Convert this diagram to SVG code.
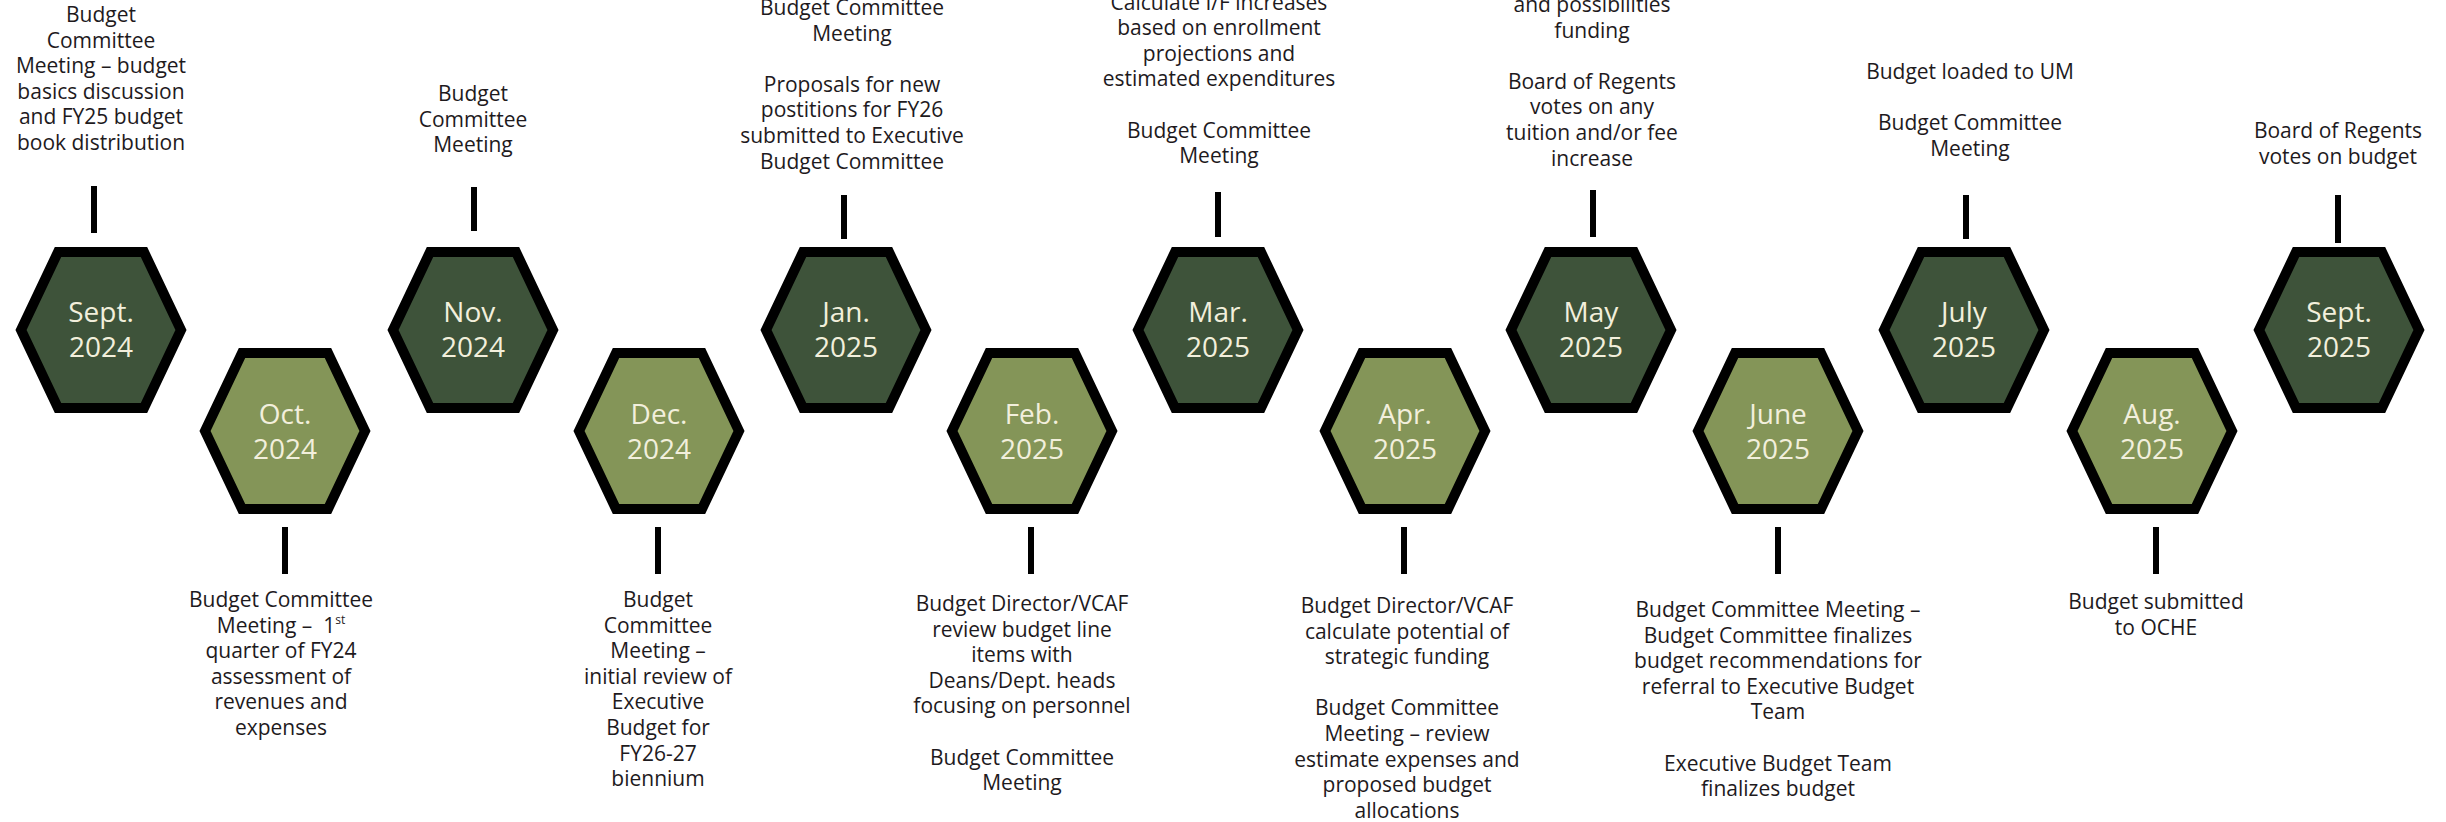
<svg xmlns="http://www.w3.org/2000/svg" width="2446" height="822" viewBox="0 0 2446 822">
<style>
.hex{stroke:#000;stroke-width:10;stroke-linejoin:miter;stroke-miterlimit:10}
.dark{fill:#3e533a}
.light{fill:#849558}
.hl{font-family:"Open Sans","Liberation Sans",sans-serif;font-size:28px;fill:#f2efdc;text-anchor:middle}
.t{font-family:"Open Sans","Liberation Sans",sans-serif;font-size:21px;fill:#1e1a1d;text-anchor:middle}
.c line{stroke:#000;stroke-width:6}
</style>
<defs>
<path id="hx" d="M-43,-78 L43,-78 L80,0 L43,78 L-43,78 L-80,0 Z"/>
</defs>
<rect width="2446" height="822" fill="#fff"/>
<g class="c" id="connectors">
<line x1="94" y1="186" x2="94" y2="233"/>
<line x1="474" y1="187" x2="474" y2="231"/>
<line x1="844" y1="195" x2="844" y2="239"/>
<line x1="1218" y1="192" x2="1218" y2="237"/>
<line x1="1593" y1="190" x2="1593" y2="237"/>
<line x1="1966" y1="195" x2="1966" y2="239"/>
<line x1="2338" y1="195" x2="2338" y2="243"/>
<line x1="285" y1="527" x2="285" y2="574"/>
<line x1="658" y1="527" x2="658" y2="574"/>
<line x1="1031" y1="527" x2="1031" y2="574"/>
<line x1="1404" y1="527" x2="1404" y2="574"/>
<line x1="1778" y1="527" x2="1778" y2="574"/>
<line x1="2156" y1="527" x2="2156" y2="574"/>
</g>
<g id="sep2024">
<use href="#hx" class="hex dark" x="101" y="330"/>
<text class="hl" x="101" y="322">Sept.</text><text class="hl" x="101" y="357">2024</text>
<text class="t" x="101" y="22">Budget<tspan x="101" dy="25.6">Committee</tspan><tspan x="101" dy="25.6">Meeting – budget</tspan><tspan x="101" dy="25.6">basics discussion</tspan><tspan x="101" dy="25.6">and FY25 budget</tspan><tspan x="101" dy="25.6">book distribution</tspan></text>
</g>
<g id="oct2024">
<use href="#hx" class="hex light" x="285" y="431"/>
<text class="hl" x="285" y="424">Oct.</text><text class="hl" x="285" y="459">2024</text>
<text class="t" x="281" y="607">Budget Committee<tspan x="281" dy="25.6">Meeting – &#160;1<tspan font-size="12" dy="-9">st</tspan></tspan><tspan x="281" dy="34.6">quarter of FY24</tspan><tspan x="281" dy="25.6">assessment of</tspan><tspan x="281" dy="25.6">revenues and</tspan><tspan x="281" dy="25.6">expenses</tspan></text>
</g>
<g id="nov2024">
<use href="#hx" class="hex dark" x="473" y="330"/>
<text class="hl" x="473" y="322">Nov.</text><text class="hl" x="473" y="357">2024</text>
<text class="t" x="473" y="101">Budget<tspan x="473" dy="25.6">Committee</tspan><tspan x="473" dy="25.6">Meeting</tspan></text>
</g>
<g id="dec2024">
<use href="#hx" class="hex light" x="659" y="431"/>
<text class="hl" x="659" y="424">Dec.</text><text class="hl" x="659" y="459">2024</text>
<text class="t" x="658" y="607">Budget<tspan x="658" dy="25.6">Committee</tspan><tspan x="658" dy="25.6">Meeting –</tspan><tspan x="658" dy="25.6">initial review of</tspan><tspan x="658" dy="25.6">Executive</tspan><tspan x="658" dy="25.6">Budget for</tspan><tspan x="658" dy="25.6">FY26-27</tspan><tspan x="658" dy="25.6">biennium</tspan></text>
</g>
<g id="jan2025">
<use href="#hx" class="hex dark" x="846" y="330"/>
<text class="hl" x="846" y="322">Jan.</text><text class="hl" x="846" y="357">2025</text>
<text class="t" x="852" y="15">Budget Committee<tspan x="852" dy="25.6">Meeting</tspan><tspan x="852" dy="51.2">Proposals for new</tspan><tspan x="852" dy="25.6">postitions for FY26</tspan><tspan x="852" dy="25.6">submitted to Executive</tspan><tspan x="852" dy="25.6">Budget Committee</tspan></text>
</g>
<g id="feb2025">
<use href="#hx" class="hex light" x="1032" y="431"/>
<text class="hl" x="1032" y="424">Feb.</text><text class="hl" x="1032" y="459">2025</text>
<text class="t" x="1022" y="611">Budget Director/VCAF<tspan x="1022" dy="25.6">review budget line</tspan><tspan x="1022" dy="25.6">items with</tspan><tspan x="1022" dy="25.6">Deans/Dept. heads</tspan><tspan x="1022" dy="25.6">focusing on personnel</tspan><tspan x="1022" dy="51.2">Budget Committee</tspan><tspan x="1022" dy="25.6">Meeting</tspan></text>
</g>
<g id="mar2025">
<use href="#hx" class="hex dark" x="1218" y="330"/>
<text class="hl" x="1218" y="322">Mar.</text><text class="hl" x="1218" y="357">2025</text>
<text class="t" x="1219" y="9.5">Calculate I/F increases<tspan x="1219" dy="25.6">based on enrollment</tspan><tspan x="1219" dy="25.6">projections and</tspan><tspan x="1219" dy="25.6">estimated expenditures</tspan><tspan x="1219" dy="51.2">Budget Committee</tspan><tspan x="1219" dy="25.6">Meeting</tspan></text>
</g>
<g id="apr2025">
<use href="#hx" class="hex light" x="1405" y="431"/>
<text class="hl" x="1405" y="424">Apr.</text><text class="hl" x="1405" y="459">2025</text>
<text class="t" x="1407" y="613">Budget Director/VCAF<tspan x="1407" dy="25.6">calculate potential of</tspan><tspan x="1407" dy="25.6">strategic funding</tspan><tspan x="1407" dy="51.2">Budget Committee</tspan><tspan x="1407" dy="25.6">Meeting – review</tspan><tspan x="1407" dy="25.6">estimate expenses and</tspan><tspan x="1407" dy="25.6">proposed budget</tspan><tspan x="1407" dy="25.6">allocations</tspan></text>
</g>
<g id="may2025">
<use href="#hx" class="hex dark" x="1591" y="330"/>
<text class="hl" x="1591" y="322">May</text><text class="hl" x="1591" y="357">2025</text>
<text class="t" x="1592" y="12">and possibilities<tspan x="1592" dy="25.6">funding</tspan><tspan x="1592" dy="51.2">Board of Regents</tspan><tspan x="1592" dy="25.6">votes on any</tspan><tspan x="1592" dy="25.6">tuition and/or fee</tspan><tspan x="1592" dy="25.6">increase</tspan></text>
</g>
<g id="jun2025">
<use href="#hx" class="hex light" x="1778" y="431"/>
<text class="hl" x="1778" y="424">June</text><text class="hl" x="1778" y="459">2025</text>
<text class="t" x="1778" y="617">Budget Committee Meeting –<tspan x="1778" dy="25.6">Budget Committee finalizes</tspan><tspan x="1778" dy="25.6">budget recommendations for</tspan><tspan x="1778" dy="25.6">referral to Executive Budget</tspan><tspan x="1778" dy="25.6">Team</tspan><tspan x="1778" dy="51.2">Executive Budget Team</tspan><tspan x="1778" dy="25.6">finalizes budget</tspan></text>
</g>
<g id="jul2025">
<use href="#hx" class="hex dark" x="1964" y="330"/>
<text class="hl" x="1964" y="322">July</text><text class="hl" x="1964" y="357">2025</text>
<text class="t" x="1970" y="79">Budget loaded to UM<tspan x="1970" dy="51.2">Budget Committee</tspan><tspan x="1970" dy="25.6">Meeting</tspan></text>
</g>
<g id="aug2025">
<use href="#hx" class="hex light" x="2152" y="431"/>
<text class="hl" x="2152" y="424">Aug.</text><text class="hl" x="2152" y="459">2025</text>
<text class="t" x="2156" y="609">Budget submitted<tspan x="2156" dy="25.6">to OCHE</tspan></text>
</g>
<g id="sep2025">
<use href="#hx" class="hex dark" x="2339" y="330"/>
<text class="hl" x="2339" y="322">Sept.</text><text class="hl" x="2339" y="357">2025</text>
<text class="t" x="2338" y="138">Board of Regents<tspan x="2338" dy="25.6">votes on budget</tspan></text>
</g>
</svg>
